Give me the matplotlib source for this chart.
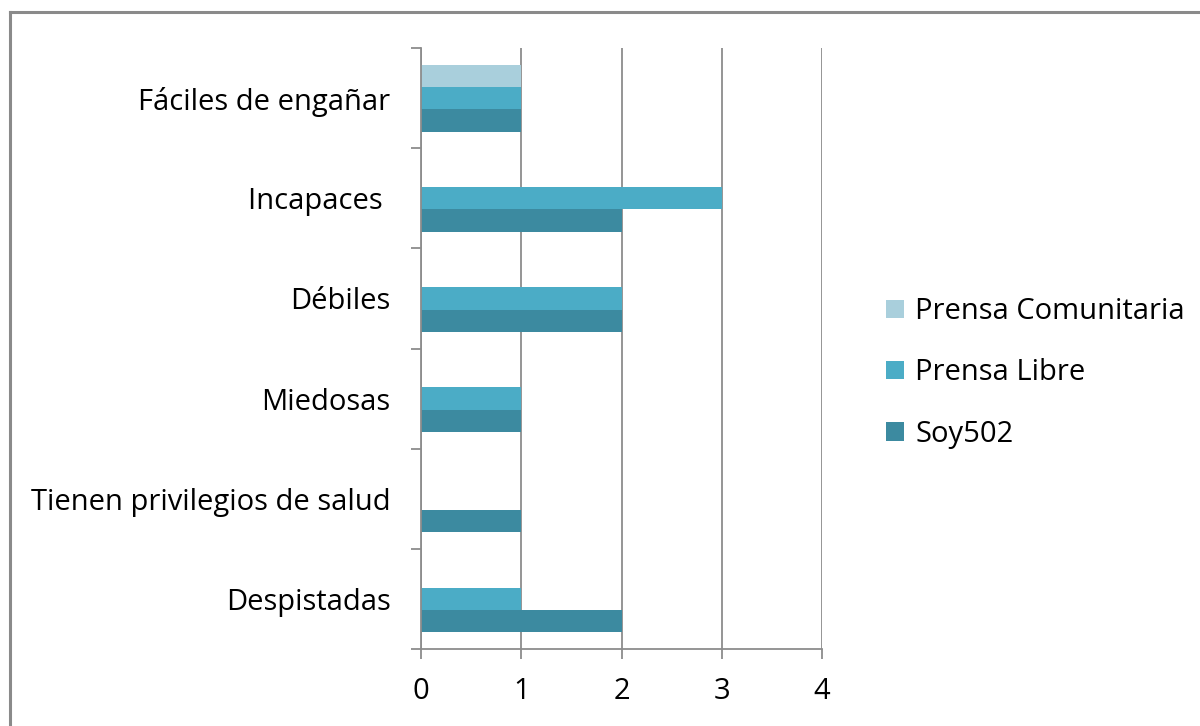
import matplotlib
matplotlib.use('Agg')
import matplotlib.pyplot as plt
import numpy as np
from matplotlib.lines import Line2D

# categories listed top to bottom
categories = ["Fáciles de engañar", "Incapaces ", "Débiles", "Miedosas",
              "Tienen privilegios de salud", "Despistadas"]
series_names = ["Prensa Comunitaria", "Prensa Libre", "Soy502"]
comunitaria = [1, 0, 0, 0, 0, 0]
libre = [1, 3, 2, 1, 0, 1]
soy502 = [1, 2, 2, 1, 1, 2]
colors = ['#A9CFDC', '#4BACC6', '#3C8AA0']

plt.rcParams['font.family'] = ['Open Sans', 'DejaVu Sans']
GRAY = '#8C8C8C'
FS = 21

fig = plt.figure(figsize=(12, 7.26), dpi=100)
ax = fig.add_axes([421/1200, 77/726, 401/1200, 601/726])

n = len(categories)
y = np.arange(n)[::-1]          # top category at highest y
h = 0.223
offsets = [h, 0, -h]
for vals, off, col, name in zip([comunitaria, libre, soy502], offsets, colors, series_names):
    ax.barh(y + off, vals, height=h, color=col, label=name, zorder=3)

ax.set_xlim(0, 4)
ax.set_ylim(-0.5, n - 0.5)
ax.set_xticks(range(5))
ax.tick_params(axis='x', length=7.2, width=1.3, color=GRAY, pad=13, labelsize=FS)
# y ticks at band boundaries, labels at centres
ax.set_yticks(np.arange(-0.5, n, 1.0))
ax.set_yticklabels([])
ax.tick_params(axis='y', which='major', length=7.2, width=1.3, color=GRAY)
ax.set_yticks(y, minor=True)
ax.set_yticklabels(categories, minor=True)
ax.tick_params(axis='y', which='minor', length=0, pad=22, labelsize=FS)

ax.grid(axis='x', color=GRAY, linewidth=1.3, zorder=0)
for s in ['top', 'right']:
    ax.spines[s].set_visible(False)
for s in ['left', 'bottom']:
    ax.spines[s].set_color(GRAY)
    ax.spines[s].set_linewidth(1.3)
    ax.spines[s].set_zorder(4)

fig.legend(loc='center left', bbox_to_anchor=(860/1200, 1 - 373/726), frameon=False,
           fontsize=FS, labelspacing=1.1, handlelength=0.6, handleheight=0.6,
           handletextpad=0.4)

# outer chart border (top and left visible)
fig.add_artist(Line2D([10/1200, 1], [1 - 12/726, 1 - 12/726], color='#8A8A8A', lw=2.2))
fig.add_artist(Line2D([10/1200, 10/1200], [0, 1 - 12/726], color='#8A8A8A', lw=2.2))

fig.savefig('out.png', dpi=100)
